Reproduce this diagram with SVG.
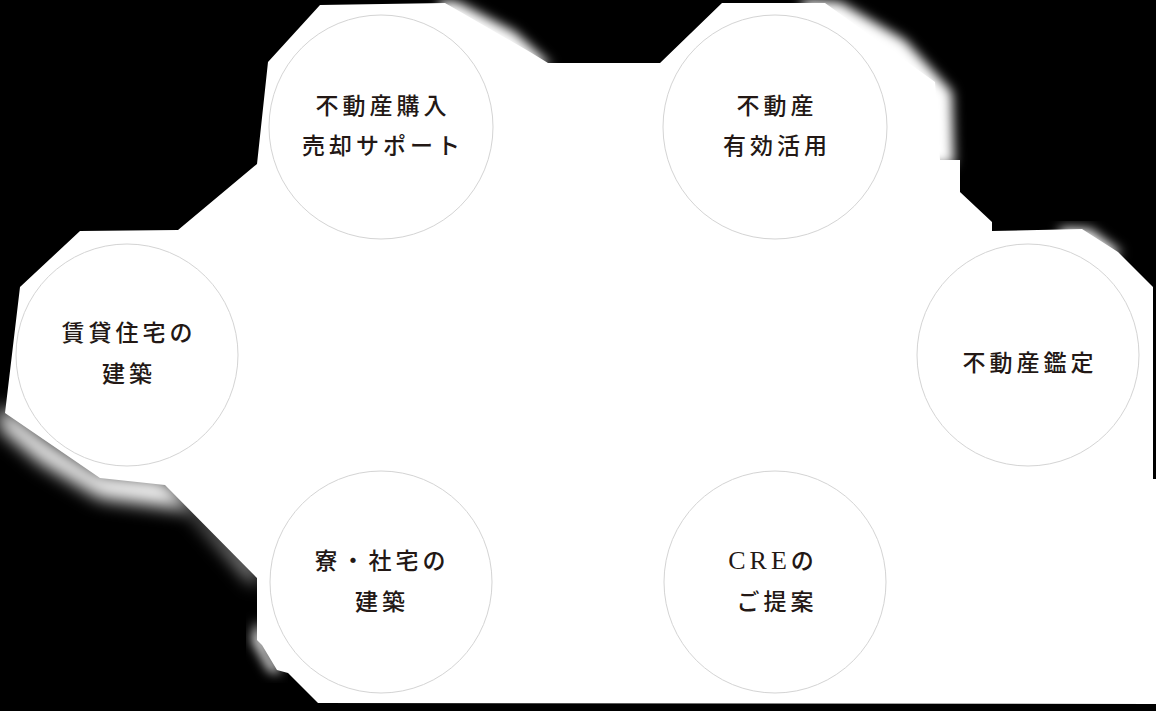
<svg xmlns="http://www.w3.org/2000/svg" width="1156" height="711" viewBox="0 0 1156 711">
<defs>
<style>
.node circle{fill:#ffffff;stroke:#d4d4d4;stroke-width:1}
.node text{font-family:"Liberation Serif","Noto Sans CJK JP",serif;font-size:23px;font-weight:500;fill:#231815;text-anchor:middle;letter-spacing:4px}
.blob{fill:#ffffff}
</style>
<filter id="soft" x="-20%" y="-20%" width="140%" height="140%"><feGaussianBlur stdDeviation="6"/></filter>
<filter id="soft2" x="-20%" y="-20%" width="140%" height="140%"><feGaussianBlur stdDeviation="9"/></filter>
</defs>
<rect x="0" y="0" width="1156" height="711" fill="#000000"/>
<g id="backdrop">
<polygon class="blob" points="268,62 320,5 445,3 530,52 548,63 660,63 722,3 825,3 935,82 940,160 960,160 960,192 992,222 992,231 1082,229 1118,252 1153,287 1153,479 1156,479 1156,704 318,703 288,673 277,670 262,645 257,640 257,578 165,485 100,478 5,413 20,287 80,231 178,230 257,164"/>
<polygon class="blob" filter="url(#soft)" points="440,0 458,2 515,32 552,66 500,66 440,30"/>
<polygon class="blob" filter="url(#soft)" points="800,0 840,2 905,40 952,92 954,165 900,165 820,40"/>
<polygon class="blob" filter="url(#soft)" points="1060,228 1090,229 1122,253 1100,262 1060,250"/>
<polygon class="blob" filter="url(#soft2)" points="0,405 50,443 100,474 165,480 256,572 256,585 190,510 100,498 40,462 0,428"/>
<polygon class="blob" filter="url(#soft)" points="257,620 270,655 282,672 270,672 252,640"/>
</g>
<g id="connectors"></g>
<g id="node-buy-sell" class="node">
<circle cx="381" cy="127" r="112"/>
<text x="383" y="113.5">不動産購入</text>
<text x="383" y="153.5">売却サポート</text>
</g>
<g id="node-utilization" class="node">
<circle cx="775" cy="127" r="112"/>
<text x="777" y="113.5">不動産</text>
<text x="777" y="153.5">有効活用</text>
</g>
<g id="node-rental" class="node">
<circle cx="127" cy="355" r="111"/>
<text x="129" y="340.5">賃貸住宅の</text>
<text x="129" y="381.5">建築</text>
</g>
<g id="node-appraisal" class="node">
<circle cx="1028" cy="355" r="111"/>
<text x="1030" y="370.5">不動産鑑定</text>
</g>
<g id="node-dormitory" class="node">
<circle cx="381" cy="582" r="111"/>
<text x="382" y="568.5" letter-spacing="1">寮・社宅の</text>
<text x="382" y="609.5">建築</text>
</g>
<g id="node-cre" class="node">
<circle cx="775" cy="582" r="111"/>
<text x="773" y="569"><tspan font-size="26">CRE</tspan>の</text>
<text x="777" y="609.5">ご提案</text>
</g>
</svg>
